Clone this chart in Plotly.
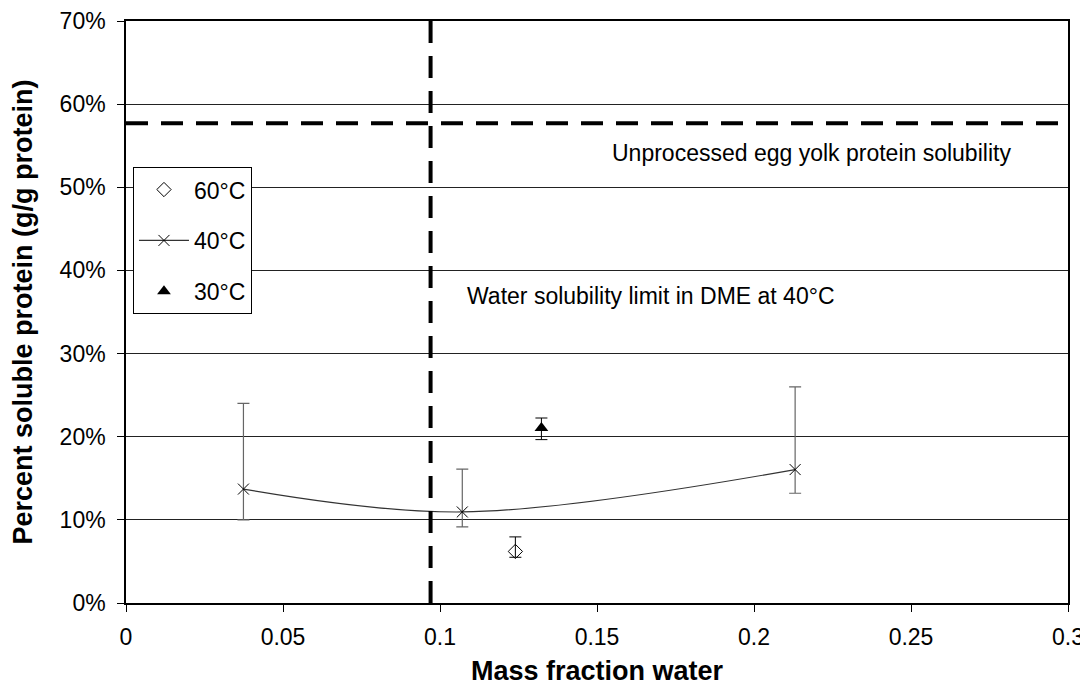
import plotly.graph_objects as go

# ---- data ----
x_60 = [0.124]
y_60 = [0.062]
err60_plus = [0.0175]
err60_minus = [0.007]

x_40 = [0.0374, 0.1071, 0.2131]
y_40 = [0.137, 0.1095, 0.1605]
err40_plus = [0.103, 0.0515, 0.0995]
err40_minus = [0.037, 0.018, 0.0285]

x_30 = [0.1323]
y_30 = [0.2105]
err30_plus = [0.012]
err30_minus = [0.014]

solubility_limit_x = [0.097]
unprocessed_y = [0.577]

x_ticks = [0, 0.05, 0.1, 0.15, 0.2, 0.25, 0.3]
x_ticklabels = ["0", "0.05", "0.1", "0.15", "0.2", "0.25", "0.3"]
y_ticks = [0, 0.1, 0.2, 0.3, 0.4, 0.5, 0.6, 0.7]
y_ticklabels = ["0%", "10%", "20%", "30%", "40%", "50%", "60%", "70%"]

FONT = "Liberation Sans, Arial, sans-serif"

fig = go.Figure()

fig.add_trace(go.Scatter(
    x=x_60, y=y_60, mode="markers", name="60°C", legendgroup="a",
    marker=dict(symbol="diamond-open", size=11, color="black", line=dict(width=1, color="black")),
    error_y=dict(type="data", symmetric=False, array=err60_plus, arrayminus=err60_minus,
                 color="black", thickness=1, width=6),
))
fig.add_trace(go.Scatter(
    x=x_40, y=y_40, mode="lines+markers", name="40°C", legendgroup="b",
    line=dict(color="#333333", width=1.2, shape="spline", smoothing=1.0),
    marker=dict(symbol="x-thin-open", size=11, color="black", line=dict(width=1, color="black")),
    error_y=dict(type="data", symmetric=False, array=err40_plus, arrayminus=err40_minus,
                 color="#666666", thickness=1.2, width=6),
))
fig.add_trace(go.Scatter(
    x=x_30, y=y_30, mode="markers", name="30°C", legendgroup="c",
    marker=dict(symbol="triangle-up", size=12, color="black"),
    error_y=dict(type="data", symmetric=False, array=err30_plus, arrayminus=err30_minus,
                 color="black", thickness=1, width=6),
))

# reference dashed lines
fig.add_shape(type="line", xref="x", yref="y",
              x0=solubility_limit_x[0], x1=solubility_limit_x[0], y0=0, y1=0.7,
              line=dict(color="black", width=4, dash="22px,13px"))
fig.add_shape(type="line", xref="x", yref="y",
              x0=0, x1=0.3, y0=unprocessed_y[0], y1=unprocessed_y[0],
              line=dict(color="black", width=4, dash="22px,13px"))

fig.add_annotation(x=0.1541, y=0.541, xref="x", yref="y", text="Unprocessed egg yolk protein solubility",
                   showarrow=False, xanchor="left", yanchor="middle",
                   font=dict(family=FONT, size=23, color="black"))
fig.add_annotation(x=0.1079, y=0.369, xref="x", yref="y", text="Water solubility limit in DME at 40°C",
                   showarrow=False, xanchor="left", yanchor="middle",
                   font=dict(family=FONT, size=23, color="black"))

# page body has an 8px margin: figure is offset by (8, 8)
fig.update_layout(
    width=1080, height=683,
    margin=dict(l=118, r=20, t=13, b=88, autoexpand=False),
    paper_bgcolor="white", plot_bgcolor="white",
    font=dict(family=FONT, size=23, color="black"),
    showlegend=True,
    legend=dict(x=0.0074, y=0.749, xanchor="left", yanchor="top",
                bgcolor="white", bordercolor="black", borderwidth=1,
                font=dict(family=FONT, size=23, color="black"),
                itemwidth=50, tracegroupgap=18, traceorder="grouped"),
    xaxis=dict(range=[0, 0.3], tickvals=x_ticks, ticktext=x_ticklabels,
               showgrid=False, zeroline=False, showline=True, linecolor="black", linewidth=1.5,
               mirror=True, ticks="outside", ticklen=7, tickcolor="black", automargin=False,
               ticklabelstandoff=6,
               tickfont=dict(family=FONT, size=23),
               title=dict(text="<b>Mass fraction water</b>", font=dict(family=FONT, size=27), standoff=12)),
    yaxis=dict(range=[0, 0.7], tickvals=y_ticks, ticktext=y_ticklabels,
               showgrid=True, gridcolor="#222222", gridwidth=1,
               zeroline=False, showline=True, linecolor="black", linewidth=1.5,
               mirror=True, ticks="outside", ticklen=7, tickcolor="black", automargin=False,
               ticklabelstandoff=7,
               tickfont=dict(family=FONT, size=23),
               title=dict(text="<b>Percent soluble protein (g/g protein)</b>", font=dict(family=FONT, size=27), standoff=20)),
)

fig.write_html("out.html")
